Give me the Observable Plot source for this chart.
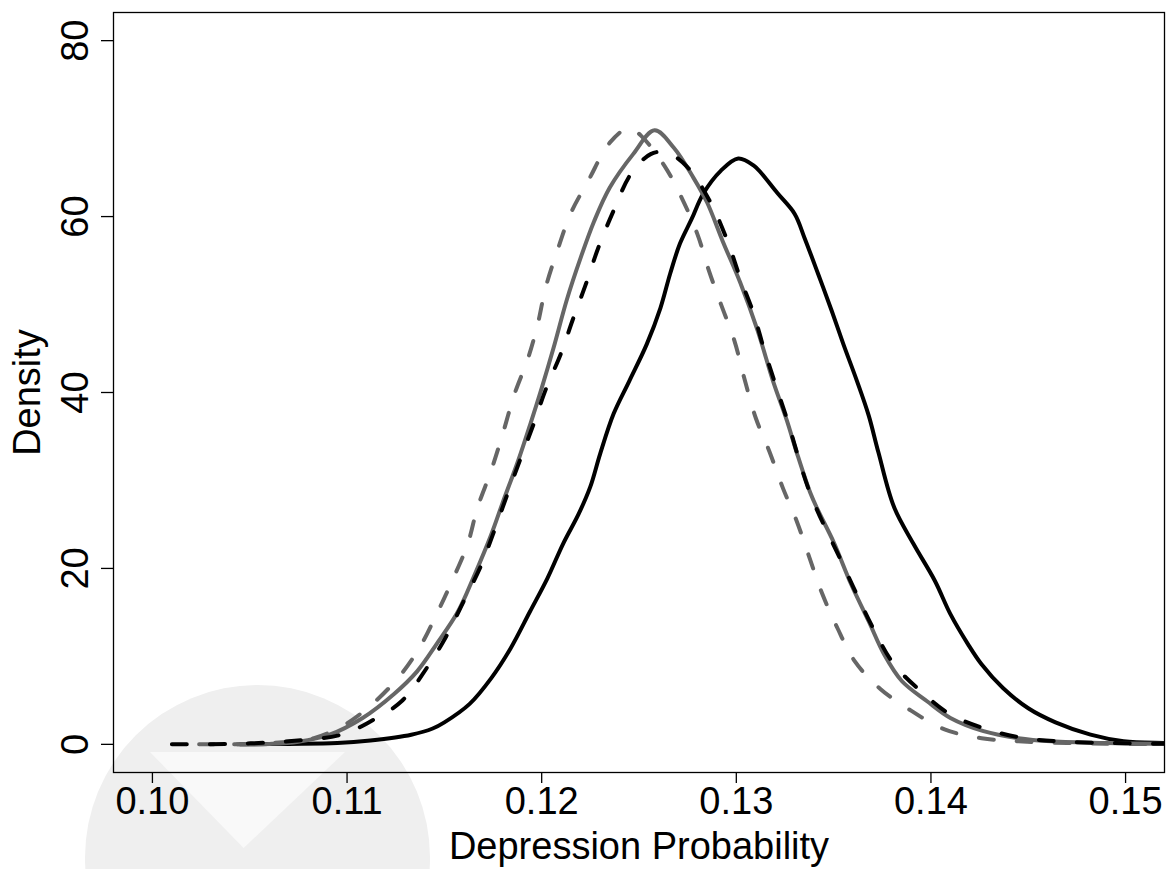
<!DOCTYPE html>
<html>
<head>
<meta charset="utf-8">
<script src="https://cdn.jsdelivr.net/npm/d3@7"></script>
<script src="https://cdn.jsdelivr.net/npm/@observablehq/plot@0.6"></script>
<style>
  html, body { margin: 0; padding: 0; background: #ffffff; }
  #wrap { position: relative; width: 1166px; height: 869px; overflow: hidden; }
  #wm { position: absolute; left: 85px; top: 685px; width: 345px; height: 345px; border-radius: 50%; background: #efefef; }
  #wm2 { position: absolute; left: 150px; top: 752px; width: 195px; height: 96px; background: #f9f9f9;
         clip-path: polygon(0 0, 100% 0, 48% 100%); }
  #chart { position: absolute; left: 0; top: 0; }
</style>
</head>
<body>
<div id="wrap"><div id="wm"></div><div id="wm2"></div><div id="chart"></div></div>
<script>
const xTicks = [0.10, 0.11, 0.12, 0.13, 0.14, 0.15];
const yTicks = [0, 20, 40, 60, 80];
const xLabel = "Depression Probability";
const yLabel = "Density";

// [probability, density] pairs
const blackSolid = [
  [0.1045,0],[0.1070,0.05],[0.1095,0.15],[0.1112,0.45],[0.1133,1.1],[0.1144,1.8],[0.1150,2.5],
  [0.1163,4.6],[0.1174,7.5],[0.1184,10.9],[0.1194,15.1],[0.1203,18.9],[0.1211,22.8],[0.1219,26.2],
  [0.1225,29.3],[0.1230,33.0],[0.1237,37.6],[0.1245,41.3],[0.1254,45.5],[0.1261,49.6],[0.1266,53.5],
  [0.1271,56.9],[0.1277,59.7],[0.1283,62.6],[0.1292,65.2],[0.1301,66.6],[0.1309,65.8],[0.1313,64.9],
  [0.1321,62.7],[0.1330,60.3],[0.1335,57.6],[0.1342,53.5],[0.1349,49.3],[0.1355,45.5],[0.1362,41.3],
  [0.1368,37.4],[0.1373,33.2],[0.1381,27.0],[0.1391,22.8],[0.1402,18.6],[0.1410,14.8],
  [0.1419,11.4],[0.1426,9.1],[0.1437,6.4],[0.1450,4.1],
  [0.1464,2.5],[0.1482,1.1],[0.1499,0.35],[0.1520,0.15],[0.1530,0.1]
];
const graySolid = [
  [0.1042,0],[0.1060,0.05],[0.1075,0.3],[0.1091,1.1],[0.1108,3.0],[0.1124,5.7],[0.1136,8.3],
  [0.1146,11.4],[0.1157,15.1],[0.1165,19.0],[0.1174,23.8],[0.1180,27.5],[0.1188,32.3],[0.1194,36.3],
  [0.1200,40.5],[0.1206,45.0],[0.1213,50.6],[0.1220,55.3],[0.1227,59.5],[0.1235,63.3],[0.1247,67.1],
  [0.1258,69.8],[0.1268,67.8],[0.1278,64.4],[0.1285,61.6],[0.1293,57.2],[0.1302,52.5],[0.1311,47.0],
  [0.1319,41.2],[0.1326,36.8],[0.1331,33.2],[0.1338,28.6],[0.1342,26.6],[0.1350,23.0],[0.1359,18.2],
  [0.1368,14.0],[0.1376,10.2],[0.1385,7.2],[0.1398,4.9],[0.1410,3.0],[0.1427,1.5],[0.1445,0.7],
  [0.1462,0.35],[0.1490,0.15],[0.1530,0.05]
];
const blackDashed = [
  [0.1010,0],[0.1040,0.05],[0.1070,0.35],[0.1097,1.1],[0.1112,2.6],[0.1128,4.9],[0.1141,8.7],
  [0.1151,12.3],[0.1160,16.3],[0.1169,20.4],[0.1175,23.9],[0.1182,28.2],[0.1189,32.4],[0.1196,36.5],
  [0.1202,40.3],[0.1210,44.5],[0.1216,48.3],[0.1223,52.5],[0.1229,56.4],[0.1237,60.7],[0.1246,64.9],
  [0.1256,67.1],[0.1264,67.3],[0.1275,65.6],[0.1287,61.5],[0.1296,56.9],[0.1302,53.0],[0.1309,48.9],
  [0.1314,45.1],[0.1320,41.0],[0.1326,37.0],[0.1338,28.5],[0.1354,20.8],[0.1371,12.9],[0.1381,9.1],
  [0.1395,6.0],[0.1410,3.4],[0.1429,1.7],[0.1448,0.7],[0.1470,0.3],[0.1500,0.12],[0.1530,0.05]
];
const grayDashed = [
  [0.1024,0],[0.1050,0.05],[0.1070,0.3],[0.1083,0.7],[0.1097,2.0],[0.1111,4.2],[0.1126,7.5],
  [0.1137,10.9],[0.1146,14.8],[0.1154,18.6],[0.1162,22.8],[0.1167,26.9],[0.1174,31.1],[0.1180,35.3],
  [0.1186,39.8],[0.1193,43.9],[0.1198,47.8],[0.1202,51.9],[0.1208,56.1],[0.1215,60.4],[0.1224,64.1],
  [0.1235,68.4],[0.1245,70.1],[0.1251,69.2],[0.1263,65.8],[0.1272,62.1],[0.1280,58.0],[0.1286,53.8],
  [0.1292,50.1],[0.1299,45.9],[0.1304,41.7],[0.1310,37.1],[0.1317,33.3],[0.1324,29.1],[0.1331,25.4],
  [0.1337,21.6],[0.1344,17.2],[0.1352,13.2],[0.1361,9.4],[0.1374,6.3],[0.1390,3.8],[0.1407,1.7],
  [0.1426,0.7],[0.1445,0.35],[0.1470,0.15],[0.1500,0.05],[0.1530,0.02]
];

const FONT = "'Liberation Sans', Arial, Helvetica, sans-serif";
const FS = 38;
const GRAY = "#666666";
const LW = 4;
const lineOpts = (stroke, dashed) => ({
  x: d => d[0], y: d => d[1], stroke, strokeWidth: LW, curve: "catmull-rom", clip: true,
  strokeLinecap: "round", strokeLinejoin: "round",
  ...(dashed ? {strokeDasharray: "15,23"} : {})
});

const chart = Plot.plot({
  width: 1166,
  height: 869,
  marginLeft: 113,
  marginRight: 2,
  marginTop: 12,
  marginBottom: 97,
  style: {background: "transparent", fontFamily: FONT, color: "#000"},
  x: {domain: [0.098, 0.152]},
  y: {domain: [-3.2, 83.2]},
  marks: [
    Plot.line(blackSolid, lineOpts("#000000", false)),
    Plot.line(graySolid, lineOpts(GRAY, false)),
    Plot.line(grayDashed, lineOpts(GRAY, true)),
    Plot.line(blackDashed, lineOpts("#000000", true)),
    Plot.frame({stroke: "#000", strokeWidth: 1.3}),
    Plot.axisX({ticks: xTicks, tickSize: 11, tickFormat: () => "", label: null, strokeWidth: 1.3}),
    Plot.axisY({ticks: yTicks, tickSize: 12, tickFormat: () => "", label: null, strokeWidth: 1.3}),
    Plot.text(xTicks, {x: d => d, text: d => d.toFixed(2), frameAnchor: "bottom", dy: 41,
      lineAnchor: "bottom", textAnchor: "middle", fontSize: FS, fill: "#000"}),
    Plot.text(yTicks, {y: d => d, text: d => String(d), frameAnchor: "left", dx: -26, rotate: -90,
      lineAnchor: "bottom", textAnchor: "middle", fontSize: FS, fill: "#000"}),
    Plot.text([xLabel], {text: d => d, frameAnchor: "bottom", dy: 86, lineAnchor: "bottom",
      textAnchor: "middle", fontSize: FS, fill: "#000"}),
    Plot.text([yLabel], {text: d => d, frameAnchor: "left", dx: -74, rotate: -90,
      lineAnchor: "bottom", textAnchor: "middle", fontSize: FS, fill: "#000"})
  ]
});
document.getElementById("chart").appendChild(chart);
</script>
</body>
</html>
